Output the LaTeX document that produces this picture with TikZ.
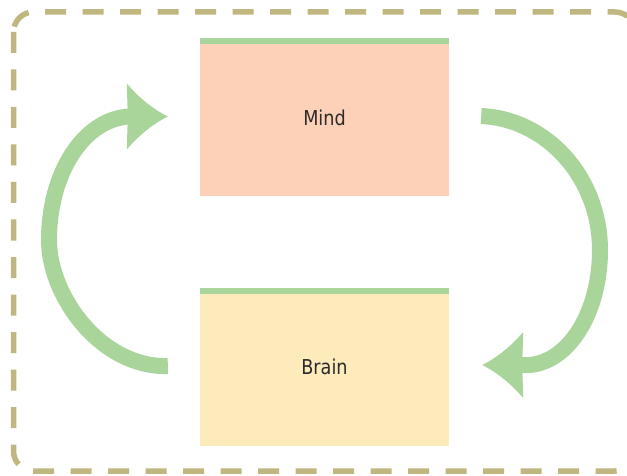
\documentclass[tikz,border=0pt]{standalone}
\usepackage{fontspec}
\setmainfont{DejaVu Sans}
\newfontfamily\labelfont{DejaVu Sans}[FakeStretch=0.86]
\definecolor{flowgreen}{HTML}{A9D59A}
\definecolor{borderkhaki}{HTML}{BFB77F}
\definecolor{mindfill}{HTML}{FDD1B8}
\definecolor{brainfill}{HTML}{FEEBBC}
\definecolor{labeltext}{HTML}{2B2B2B}
\tikzset{
  box/.style={rectangle, minimum width=249pt, minimum height=158pt, inner sep=0pt,
    text=labeltext, font=\labelfont\fontsize{20.5}{22}\selectfont},
  flow/.style={draw=flowgreen, line width=16pt},
  frame/.style={draw=borderkhaki, line width=5.5pt, dash pattern=on 21pt off 16.5pt,
    rounded corners=20pt},
  headtip/.pic={\fill[flowgreen] (0,0) .. controls (-16,-8) and (-30,-20) .. (-41,-33)
     -- (-40,0) -- (-41,33) .. controls (-30,20) and (-16,8) .. (0,0) -- cycle;}
}
\begin{document}
\begin{tikzpicture}[x=1pt,y=-1pt]
\useasboundingbox (0,0) rectangle (627,476);
\fill[white] (0,0) rectangle (627,476);
\draw[frame] (13.5,12) rectangle (635,471);
% boxes
\node[box, fill=mindfill] (mind) at (324.5,117.5) {Mind};
\node[box, fill=brainfill] (brain) at (324.5,367) {Brain};
\fill[flowgreen] (mind.north west) rectangle ([yshift=-6pt]mind.north east);
\fill[flowgreen] (brain.north west) rectangle ([yshift=-6pt]brain.north east);
% left arrow: brain -> mind
\coordinate (lstart) at ([xshift=-32pt,yshift=1pt]brain.west);
\coordinate (ltip) at ([xshift=-32pt,yshift=1pt]mind.west);
\coordinate (lback) at ([xshift=-38pt]ltip);
\draw[flow] (lstart) .. controls (102,368) and (49,297) .. (49,240)
  .. controls (49,173) and (84,118.5) .. (lback);
\pic at (ltip) {headtip};
% right arrow: mind -> brain
\coordinate (rstart) at ([xshift=32pt,yshift=1.5pt]mind.east);
\coordinate (rtip) at ([xshift=33pt,yshift=2pt]brain.east);
\coordinate (rback) at ([xshift=38pt]rtip);
\draw[flow] (rstart) .. controls (547,119) and (600,178) .. (600,250)
  .. controls (600,316) and (565,369) .. (rback);
\pic[xscale=-1] at (rtip) {headtip};
\end{tikzpicture}
\end{document}
